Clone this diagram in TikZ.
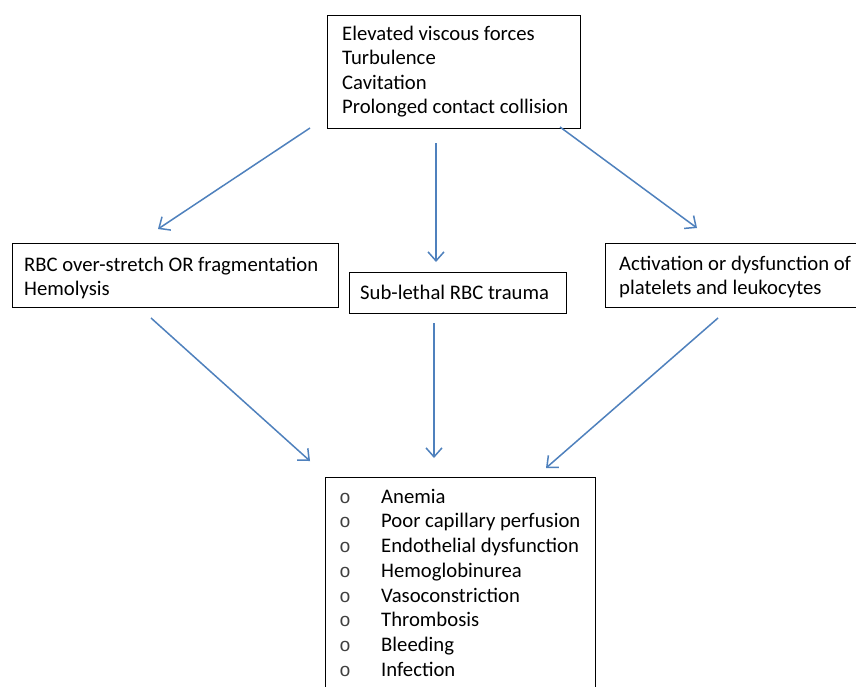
\documentclass[tikz,border=0pt]{standalone}
\usepackage{fontspec}
\setmainfont{Carlito}
\setmonofont{Liberation Mono}
\usetikzlibrary{arrows.meta}
\definecolor{arrowblue}{HTML}{4F81BD}
\begin{document}
\begin{tikzpicture}[x=1pt,y=-1pt,
  box/.style={draw=black,line width=1.4pt,inner sep=0pt,anchor=north west},
  txt/.style={anchor=base west,inner sep=0pt,font=\fontsize{20.7}{24.6}\selectfont},
  bul/.style={anchor=base,inner sep=0pt,text=black!75,font=\fontsize{19}{20}\selectfont\ttfamily},
  arr/.style={draw=arrowblue,line width=1.5pt,-{Straight Barb[length=9pt,width=16pt,line width=1.5pt]}}]
\useasboundingbox (0,0) rectangle (856,686);
\clip (0,0) rectangle (856,686);
\fill[white] (0,0) rectangle (856,686);
% boxes
\node[box,minimum width=253,minimum height=113] (top) at (327,15) {};
\node[box,minimum width=326,minimum height=64] (left) at (12,243) {};
\node[box,minimum width=217,minimum height=41] (mid) at (349,272) {};
\node[box,minimum width=252,minimum height=64] (right) at (605,243) {};
\node[box,minimum width=270,minimum height=240] (bot) at (325,477) {};
% top text
\node[txt] (t1) at (342,40) {Elevated viscous forces};
\node[txt] (t2) at (342,64.5) {Turbulence};
\node[txt] (t3) at (342,89) {Cavitation};
\node[txt] (t4) at (342,113.5) {Prolonged contact collision};
% left text
\node[txt] (l1) at (24,271) {RBC over-stretch OR fragmentation};
\node[txt] (l2) at (24,295.5) {Hemolysis};
% mid text
\node[txt] (m1) at (360,299) {Sub-lethal RBC trauma};
% right text
\node[txt] (r1) at (619,270) {Activation or dysfunction of};
\node[txt] (r2) at (619,294.5) {platelets and leukocytes};
% bottom list
\foreach \i/\t in {0/Anemia,1/Poor capillary perfusion,2/Endothelial dysfunction,3/Hemoglobinurea,4/Vasoconstriction,5/Thrombosis,6/Bleeding,7/Infection}{
  \node[bul] (b\i) at (345,503+24.75*\i) {o};
  \node[txt] (e\i) at (381,503+24.75*\i) {\t};
}
% arrow end points
\coordinate (a1s) at (310,128);
\coordinate (a1e) at (158,229);
\coordinate (a2s) at (436,143);
\coordinate (a2e) at (436,262);
\coordinate (a3s) at (560,127);
\coordinate (a3e) at (697,228);
\coordinate (a4s) at (151,318);
\coordinate (a4e) at (310,461);
\coordinate (a5s) at (434,323);
\coordinate (a5e) at (434,458);
\coordinate (a6s) at (718,318);
\coordinate (a6e) at (546,468);
\draw[arr] (a1s) -- (a1e);
\draw[arr] (a2s) -- (a2e);
\draw[arr] (a3s) -- (a3e);
\draw[arr] (a4s) -- (a4e);
\draw[arr] (a5s) -- (a5e);
\draw[arr] (a6s) -- (a6e);
\end{tikzpicture}
\end{document}
